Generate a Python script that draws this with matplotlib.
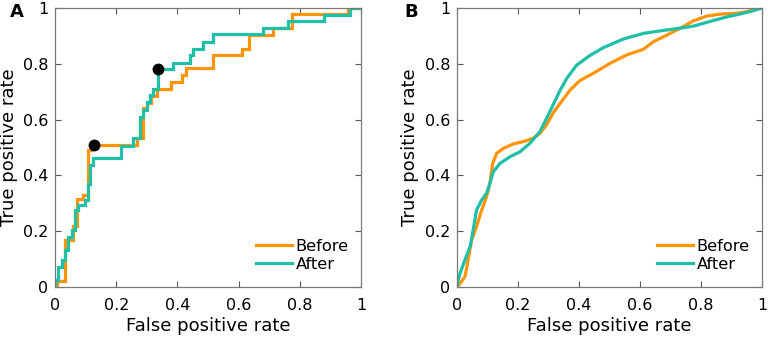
import matplotlib
matplotlib.use("Agg")
import matplotlib.pyplot as plt

# ---- Panel A: empirical ROC staircase (FPR, TPR corner points) ----
a_before_fpr = [0, 0.008, 0.008, 0.033, 0.033, 0.06, 0.06, 0.073, 0.073, 0.093, 0.093, 0.107, 0.107,
                0.118, 0.118, 0.267, 0.267, 0.289, 0.289, 0.30, 0.30, 0.315, 0.315, 0.332, 0.332,
                0.378, 0.378, 0.414, 0.414, 0.427, 0.427, 0.515, 0.515, 0.61, 0.61, 0.635, 0.635,
                0.711, 0.711, 0.773, 0.773, 0.958, 0.958, 1.0]
a_before_tpr = [0, 0, 0.02, 0.02, 0.17, 0.17, 0.22, 0.22, 0.314, 0.314, 0.33, 0.33, 0.49,
                0.49, 0.51, 0.51, 0.535, 0.535, 0.64, 0.64, 0.66, 0.66, 0.685, 0.685, 0.708,
                0.708, 0.735, 0.735, 0.76, 0.76, 0.784, 0.784, 0.833, 0.833, 0.853, 0.853, 0.902,
                0.902, 0.927, 0.927, 0.98, 0.98, 1.0, 1.0]

a_after_fpr = [0, 0, 0.01, 0.01, 0.022, 0.022, 0.033, 0.033, 0.044, 0.044, 0.054, 0.054, 0.065, 0.065,
               0.076, 0.076, 0.098, 0.098, 0.107, 0.107, 0.114, 0.114, 0.125, 0.125, 0.217, 0.217,
               0.256, 0.256, 0.278, 0.278, 0.289, 0.289, 0.30, 0.30, 0.31, 0.31, 0.321, 0.321,
               0.336, 0.336, 0.385, 0.385, 0.441, 0.441, 0.452, 0.452, 0.485, 0.485, 0.517, 0.517,
               0.68, 0.68, 0.762, 0.762, 0.879, 0.879, 0.964, 0.964, 1.0]
a_after_tpr = [0, 0.025, 0.025, 0.073, 0.073, 0.098, 0.098, 0.133, 0.133, 0.18, 0.18, 0.205, 0.205, 0.275,
               0.275, 0.293, 0.293, 0.312, 0.312, 0.37, 0.37, 0.437, 0.437, 0.462, 0.462, 0.505,
               0.505, 0.535, 0.535, 0.61, 0.61, 0.634, 0.634, 0.664, 0.664, 0.688, 0.688, 0.708,
               0.708, 0.78, 0.78, 0.804, 0.804, 0.832, 0.832, 0.853, 0.853, 0.879, 0.879, 0.906,
               0.906, 0.927, 0.927, 0.954, 0.954, 0.975, 0.975, 1.0, 1.0]

# operating points (black dots)
a_dot_fpr = [0.128, 0.338]
a_dot_tpr = [0.51, 0.78]

# ---- Panel B: smoothed ROC curves ----
b_before_fpr = [0, 0.015, 0.026, 0.032, 0.048, 0.064, 0.081, 0.097, 0.108, 0.117, 0.13, 0.152,
                0.185, 0.217, 0.25, 0.272, 0.294, 0.316, 0.338, 0.37, 0.403, 0.447, 0.502,
                0.557, 0.611, 0.644, 0.688, 0.731, 0.775, 0.819, 0.862, 0.917, 0.95, 0.983, 1.0]
b_before_tpr = [0, 0.02, 0.037, 0.07, 0.168, 0.216, 0.276, 0.324, 0.372, 0.443, 0.479, 0.497,
                0.513, 0.521, 0.533, 0.551, 0.582, 0.625, 0.658, 0.705, 0.74, 0.766, 0.802,
                0.832, 0.852, 0.879, 0.903, 0.927, 0.954, 0.971, 0.978, 0.981, 0.987, 0.997, 1.0]

b_after_fpr = [0, 0.003, 0.01, 0.026, 0.043, 0.053, 0.064, 0.081, 0.097, 0.108, 0.119, 0.141,
               0.174, 0.207, 0.239, 0.272, 0.294, 0.316, 0.338, 0.36, 0.392, 0.436, 0.48,
               0.546, 0.611, 0.666, 0.72, 0.775, 0.83, 0.884, 0.939, 0.971, 1.0]
b_after_tpr = [0, 0.019, 0.049, 0.097, 0.145, 0.204, 0.276, 0.312, 0.336, 0.372, 0.413, 0.443,
               0.467, 0.485, 0.515, 0.557, 0.605, 0.655, 0.705, 0.748, 0.795, 0.83, 0.858,
               0.889, 0.909, 0.918, 0.926, 0.935, 0.952, 0.968, 0.981, 0.99, 1.0]

ticks = [0, 0.2, 0.4, 0.6, 0.8, 1]
tick_labels = ["0", "0.2", "0.4", "0.6", "0.8", "1"]
series_names = ["Before", "After"]
panel_letters = ["A", "B"]

ORANGE = "#FF9408"
TEAL = "#1FBFA8"

plt.rcParams['font.family'] = ['DejaVu Sans']
fig = plt.figure(figsize=(7.68, 3.39), dpi=100)
axA = fig.add_axes([55 / 768, 52 / 339, 306 / 768, 279 / 339])
axB = fig.add_axes([457 / 768, 52 / 339, 305 / 768, 279 / 339])

lw = 2.3
axA.plot(a_before_fpr, a_before_tpr, color=ORANGE, lw=lw, label=series_names[0], solid_joinstyle='miter')
axA.plot(a_after_fpr, a_after_tpr, color=TEAL, lw=lw, label=series_names[1], solid_joinstyle='miter')
axA.plot(a_dot_fpr, a_dot_tpr, 'o', color='black', ms=7.5, zorder=5)

axB.plot(b_before_fpr, b_before_tpr, color=ORANGE, lw=lw, label=series_names[0])
axB.plot(b_after_fpr, b_after_tpr, color=TEAL, lw=lw, label=series_names[1])

ylabel_x = [(9 - 55) / 306, (410 - 457) / 305]
for ax, letter, lx in zip([axA, axB], panel_letters, ylabel_x):
    ax.set_xlim(0, 1)
    ax.set_ylim(0, 1)
    ax.set_xticks(ticks)
    ax.set_xticklabels(tick_labels)
    ax.set_yticks(ticks)
    ax.set_yticklabels(tick_labels)
    ax.tick_params(direction='in', length=4, width=0.8, color='#555555', labelsize=11.5,
                   top=True, right=True)
    ax.tick_params(axis='x', pad=8)
    ax.tick_params(axis='y', pad=5)
    for sp in ax.spines.values():
        sp.set_color('#7a7a7a')
        sp.set_linewidth(0.9)
    ax.set_xlabel("False positive rate", fontsize=13, labelpad=3)
    ax.set_ylabel("True positive rate", fontsize=13)
    ax.yaxis.label.set_va('center')
    ax.yaxis.set_label_coords(lx, 0.5)
    ax.legend(loc='lower right', frameon=False, fontsize=11.7, handlelength=2.2,
              handletextpad=0.25, labelspacing=0.2, borderaxespad=0.35,
              bbox_to_anchor=(1.0, 0.01))

fig.text(10 / 768, 1 - 12 / 339, panel_letters[0], fontsize=13, fontweight='bold', va='center', ha='left')
fig.text(404 / 768, 1 - 12 / 339, panel_letters[1], fontsize=13, fontweight='bold', va='center', ha='left')

fig.savefig("out.png", dpi=100)
